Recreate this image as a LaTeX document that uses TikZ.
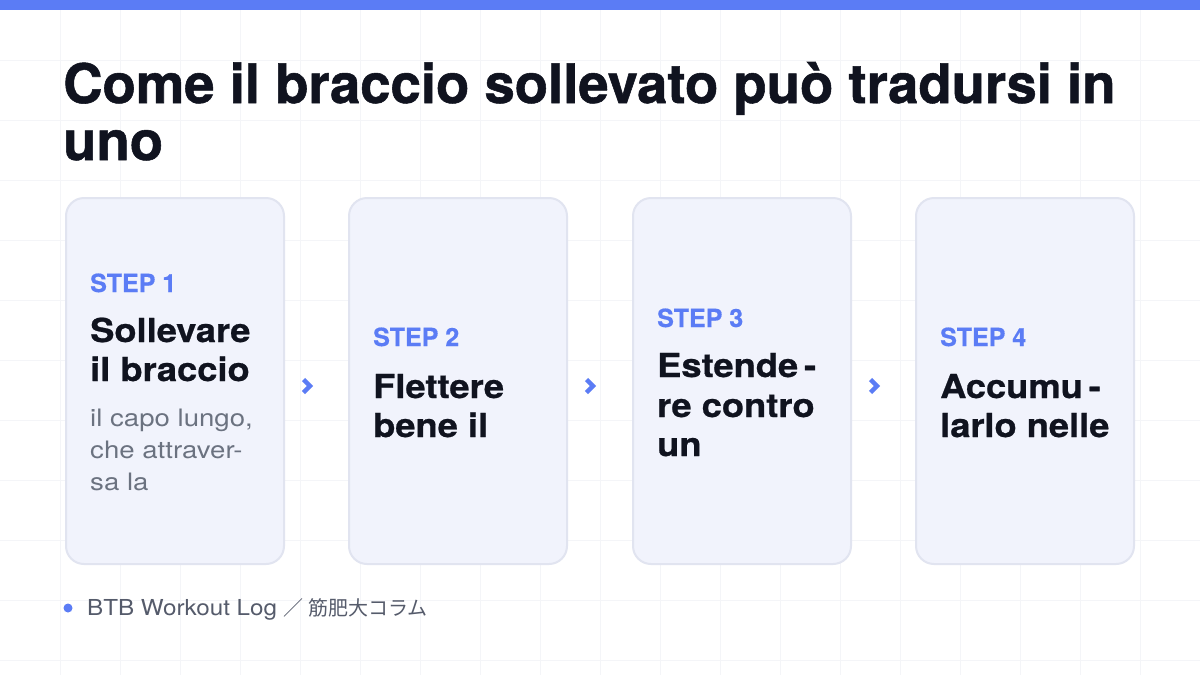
\documentclass[tikz,border=0pt]{standalone}
\usepackage{fontspec}
\setmainfont{TeX Gyre Heros}[BoldFeatures={FakeBold=0.6}]
\newfontfamily\titlefont{TeX Gyre Heros}[BoldFeatures={FakeBold=1.0}]
\newfontfamily\headfont{TeX Gyre Heros}[FakeStretch=1.1,BoldFeatures={FakeBold=0.7}]
\newfontfamily\bodyfont{TeX Gyre Heros}[FakeStretch=1.15]
\newfontfamily\footfont{TeX Gyre Heros}[FakeStretch=1.1]
\newfontfamily\cjk{Noto Sans CJK JP}
\definecolor{accent}{HTML}{5B7CF5}
\definecolor{ink}{HTML}{10131F}
\definecolor{cardfill}{HTML}{F1F3FC}
\definecolor{cardline}{HTML}{E1E4F0}
\definecolor{muted}{HTML}{6B7280}
\definecolor{foot}{HTML}{555B6B}
\definecolor{gridc}{HTML}{F4F5F8}
\tikzset{
  card/.style={draw=cardline, line width=2pt, fill=cardfill, rounded corners=18pt,
    minimum width=218pt, minimum height=366pt, inner sep=0pt},
  titleln/.style={anchor=base west, inner sep=0pt, text=ink,
    font=\titlefont\bfseries\fontsize{54.5}{57}\selectfont},
  steplbl/.style={anchor=base west, inner sep=0pt, text=accent,
    font=\bfseries\fontsize{25}{30}\selectfont},
  headln/.style={anchor=base west, inner sep=0pt, text=ink,
    font=\headfont\bfseries\fontsize{33}{40}\selectfont},
  bodyln/.style={anchor=base west, inner sep=0pt, text=muted,
    font=\bodyfont\fontsize{24}{32}\selectfont},
  chev/.style={draw=accent, line width=4.4pt},
  footln/.style={anchor=base west, inner sep=0pt, text=foot,
    font=\footfont\fontsize{22}{25}\selectfont},
}
\begin{document}
\begin{tikzpicture}[x=1pt,y=-1pt]
\useasboundingbox (0,0) rectangle (1200,675);
\fill[white] (0,0) rectangle (1200,675);
% grid
\foreach \gx in {60,120,...,1140} \draw[gridc, line width=1pt] (\gx,10) -- (\gx,675);
\foreach \gy in {60,120,...,660} \draw[gridc, line width=1pt] (0,\gy) -- (1200,\gy);
% top bar
\fill[accent] (0,0) rectangle (1200,10);
% title
\node[titleln] (t1) at (63,103) {Come il braccio sollevato può tradursi in};
\node[titleln] (t2) at (63,160) {uno};
% cards
\node[card] (c1) at (175,381) {};
\node[card] (c2) at (458,381) {};
\node[card] (c3) at (742,381) {};
\node[card] (c4) at (1025,381) {};
% card 1
\node[steplbl] (s1) at (90,292) {STEP 1};
\node[headln] (h1a) at (90,342) {Sollevare};
\node[headln] (h1b) at (90,381) {il braccio};
\node[bodyln] (b1a) at (90,426) {il capo lungo,};
\node[bodyln] (b1b) at (90,458) {che attraver-};
\node[bodyln] (b1c) at (90,490) {sa la};
% card 2
\node[steplbl] (s2) at (373,346) {STEP 2};
\node[headln] (h2a) at (373,398) {Flettere};
\node[headln] (h2b) at (373,437) {bene il};
% card 3
\node[steplbl] (s3) at (657,327) {STEP 3};
\node[headln] (h3a) at (657,377) {Estende\hspace{0.18em}-};
\node[headln] (h3b) at (657,417) {re contro};
\node[headln] (h3c) at (657,456) {un};
% card 4
\node[steplbl] (s4) at (940,346) {STEP 4};
\node[headln] (h4a) at (940,398) {Accumu\hspace{0.18em}-};
\node[headln] (h4b) at (940,437) {larlo nelle};
% chevrons
\coordinate (ch1) at (307,386);
\coordinate (ch2) at (590,386);
\coordinate (ch3) at (874,386);
\foreach \c in {ch1,ch2,ch3}
  \draw[chev] ([xshift=-3.5pt,yshift=6.5pt]\c) -- ([xshift=3pt]\c) -- ([xshift=-3.5pt,yshift=-6.5pt]\c);
% footer
\fill[accent] (68,608) circle (4.5pt);
\node[footln] (f1) at (87,615) {BTB Workout Log {\cjk\fontsize{20}{25}\selectfont ／ 筋肥大コラム}};
\end{tikzpicture}
\end{document}
